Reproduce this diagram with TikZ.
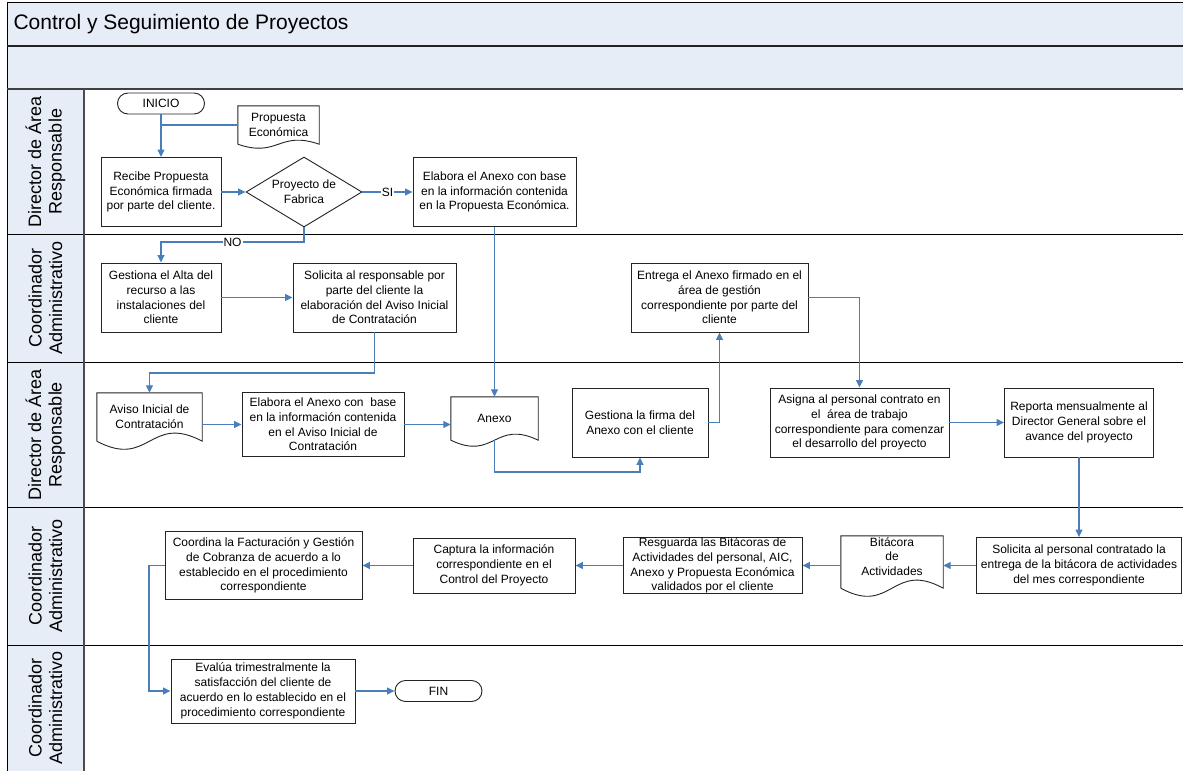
\documentclass[tikz,border=0pt]{standalone}
\usepackage{fontspec}
\setmainfont{Liberation Sans}
\usetikzlibrary{arrows.meta,shapes.geometric}

\definecolor{bandfill}{RGB}{230,237,247}
\definecolor{flowblue}{RGB}{74,126,187}
\definecolor{edgegray}{RGB}{35,35,35}

\tikzset{
  bodytext/.style={font=\fontsize{12bp}{14.8bp}\selectfont},
  wh/.style 2 args={minimum width=#1bp, minimum height=#2bp},
  stepbox/.style={draw=edgegray, line width=0.9bp, fill=white, align=center,
    inner xsep=2bp, inner ysep=0pt, bodytext},
  docbox/.style={draw=none, align=center, inner sep=0pt, bodytext},
  docline/.style={draw=edgegray, line width=0.9bp},
  terminal/.style={stepbox, rounded corners=10.5bp},
  decision/.style={stepbox, diamond, aspect=1.66, inner sep=0pt},
  conn/.style={draw=flowblue, line width=1.2bp, -{Triangle[length=7.5bp,width=7bp]}},
  link/.style={draw=flowblue, line width=1.2bp},
  branchlbl/.style={fill=white, inner sep=1bp, bodytext},
  lanelbl/.style={rotate=90, align=center, font=\fontsize{18bp}{20.5bp}\selectfont},
}

% outline of a "document" symbol around a node: straight top and sides, wavy bottom
\newcommand\docoutline[2]{%
  \draw[docline] (#1.south west) -- (#1.north west) -- (#1.north east) -- (#1.south east)
    .. controls ([yshift=#2]#1.south) and ([yshift=-#2]#1.south) .. (#1.south west);}

\begin{document}
\begin{tikzpicture}[x=1bp, y=-1bp]
\useasboundingbox (0,0) rectangle (1183,771);

% header bands and lane label column
\fill[bandfill] (7,3) rectangle (1183,89);
\fill[bandfill] (7,89) rectangle (84,771);
\draw[black, line width=1bp] (7,771) -- (7,3) -- (1183,3);
\draw[edgegray, line width=1.5bp] (7,46) -- (1183,46);
\draw[black!75, line width=2bp] (7,89) -- (1183,89);
\foreach \yy in {234,362,507,645}
  \draw[black, line width=1bp] (7,\yy) -- (1183,\yy);
\draw[black!70, line width=1.5bp] (84,89) -- (84,771);

\node[anchor=base west, font=\fontsize{21bp}{25bp}\selectfont] (title) at (10,30)
  {Control y Seguimiento de Proyectos};

% lane labels
\node[lanelbl] (laneA) at (45.5,161.5) {Director de Área\\Responsable};
\node[lanelbl] (laneB) at (45.5,298) {Coordinador\\Administrativo};
\node[lanelbl] (laneC) at (45.5,434.5) {Director de Área\\Responsable};
\node[lanelbl] (laneD) at (45.5,576) {Coordinador\\Administrativo};
\node[lanelbl] (laneE) at (45.5,708) {Coordinador\\Administrativo};

% lane 1
\node[terminal, wh={87}{21}] (inicio) at (161,103.5) {INICIO};
\node[docbox, wh={81}{38}] (prop) at (278.5,125) {Propuesta\\Económica};
\node[stepbox, wh={120}{69}] (recibe) at (161,192)
  {Recibe Propuesta\\Económica firmada\\por parte del cliente.};
\node[decision, wh={116}{70}] (dec) at (304,192) {Proyecto de\\Fabrica};
\node[stepbox, wh={163}{69}] (elab1) at (494.5,192)
  {Elabora el Anexo con base\\en la información contenida\\en la Propuesta Económica.};

% lane 2
\node[stepbox, wh={120}{69}] (gestA) at (161,297.5)
  {Gestiona el Alta del\\recurso a las\\instalaciones del\\cliente};
\node[stepbox, wh={163}{69}] (solic) at (374.5,297.5)
  {Solicita al responsable por\\parte del cliente la\\elaboración del Aviso Inicial\\de Contratación};
\node[stepbox, wh={177}{69}] (entrega) at (719.5,297.5)
  {Entrega el Anexo firmado en el\\área de gestión\\correspondiente por parte del\\cliente};

% lane 3
\node[docbox, wh={105}{48}] (aviso) at (149.5,417) {Aviso Inicial de\\Contratación};
\node[stepbox, wh={162}{64}] (elab2) at (323,424.5)
  {Elabora el Anexo con~ base\\en la información contenida\\en el Aviso Inicial de\\Contratación};
\node[docbox, wh={87}{43}] (anexo) at (494.5,418.5) {Anexo};
\node[stepbox, wh={136}{69}] (firma) at (640,422.5)
  {Gestiona la firma del\\Anexo con el cliente};
\node[stepbox, wh={179}{69}] (asigna) at (859.5,422.5)
  {Asigna al personal contrato en\\el~ área de trabajo\\correspondiente para comenzar\\el desarrollo del proyecto};
\node[stepbox, wh={149}{69}] (reporta) at (1079,422.5)
  {Reporta mensualmente al\\Director General sobre el\\avance del proyecto};

% lane 4
\node[stepbox, wh={205}{56}] (solic2) at (1079,565.5)
  {Solicita al personal contratado la\\entrega de la bitácora de actividades\\del mes correspondiente};
\node[docbox, wh={102}{52}, text depth=11bp] (bitac) at (892,562) {Bitácora\\de\\Actividades};
\node[stepbox, wh={179}{55}] (resg) at (712.5,565.5)
  {Resguarda las Bitácoras de\\Actividades del personal, AIC,\\Anexo y Propuesta Económica\\validados por el cliente};
\node[stepbox, wh={162}{55}] (captura) at (494,565.5)
  {Captura la información\\correspondiente en el\\Control del Proyecto};
\node[stepbox, wh={197}{68}] (coord) at (263.5,565.5)
  {Coordina la Facturación y Gestión\\de Cobranza de acuerdo a lo\\establecido en el procedimiento\\correspondiente};

% lane 5
\node[stepbox, wh={184}{64}] (eval) at (263,691)
  {Evalúa trimestralmente la\\satisfacción del cliente de\\acuerdo en lo establecido en el\\procedimiento correspondiente};
\node[terminal, wh={87}{21}] (fin) at (438.5,691) {FIN};

% document symbols
\docoutline{prop}{14bp}
\docoutline{aviso}{28bp}
\docoutline{anexo}{21bp}
\docoutline{bitac}{28bp}

% bend points of the routed connectors
\coordinate (noTurn) at (304,242);
\coordinate (avTurn) at (374.5,373);
\coordinate (axTurn) at (494.5,472);
\coordinate (cvTurn) at (149,565.5);

% connectors
\draw[conn] (inicio) -- (recibe);
\draw[link] (prop.west) -- (prop.west -| inicio.south);
\draw[conn] (recibe) -- (dec);
\draw[conn] (dec) -- node[branchlbl]{SI} (elab1);
\draw[conn] (dec.south) -- (noTurn) -| node[branchlbl, pos=0.25]{NO} (gestA.north);
\draw[conn] (gestA) -- (solic);
\draw[conn] (solic.south) -- (avTurn) -| (aviso.north);
\draw[conn] (aviso.east |- elab2.west) -- (elab2);
\draw[conn] (elab2) -- (anexo.west |- elab2.west);
\draw[conn] (elab1.south) -- (anexo.north);
\draw[conn] (anexo.south) -- (axTurn) -| (firma.south);
\draw[conn] (firma.east) -| (entrega.south);
\draw[conn] (entrega.east) -| (asigna.north);
\draw[conn] (asigna) -- (reporta);
\draw[conn] (reporta.south) -- (solic2.north);
\draw[conn] (solic2.west) -- (bitac.east |- solic2.west);
\draw[conn] (bitac.west |- resg.east) -- (resg.east);
\draw[conn] (resg) -- (captura);
\draw[conn] (captura) -- (coord);
\draw[conn] (coord.west) -- (cvTurn) |- (eval.west);
\draw[conn] (eval) -- (fin);
\end{tikzpicture}
\end{document}
